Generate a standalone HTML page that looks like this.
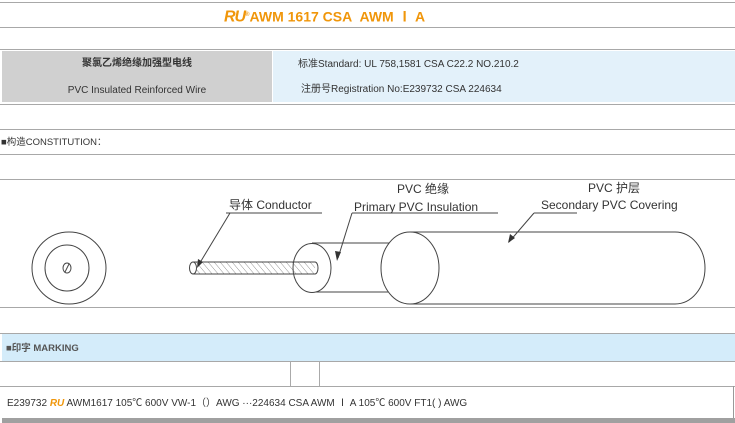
<!DOCTYPE html>
<html><head><meta charset="utf-8"><style>
body{margin:0;width:735px;height:423px;position:relative;background:#fff;font-family:"Liberation Sans","Noto Sans CJK SC",sans-serif;overflow:hidden}
.h{position:absolute;left:0;width:735px;height:0;border-top:1.5px solid #a8a8a8}
.t{position:absolute;white-space:nowrap;font-size:10px;color:#333;line-height:12px}
</style></head><body>
<div class="h" style="top:2px"></div>
<div class="h" style="top:27px"></div>
<div class="t" style="left:224px;top:7px;font-size:14px;font-weight:bold;color:#f0960a;line-height:16px"><span style="font-style:italic;letter-spacing:-1px;font-size:16px;font-weight:900">RU</span><sup style="font-size:6px">®</sup>AWM 1617 CSA&nbsp; AWM Ⅰ A</div>
<div class="h" style="top:49px"></div>
<div style="position:absolute;left:2px;top:51px;width:270px;height:51px;background:#d0d0d0"></div>
<div style="position:absolute;left:273px;top:51px;width:462px;height:51px;background:#e3f1fa"></div>
<div class="t" style="left:2px;width:270px;text-align:center;top:58px;font-weight:bold">聚氯乙烯绝缘加强型电线</div>
<div class="t" style="left:2px;width:270px;text-align:center;top:85px">PVC Insulated Reinforced Wire</div>
<div class="t" style="left:298px;top:59px">标准Standard: UL 758,1581 CSA C22.2 NO.210.2</div>
<div class="t" style="left:301px;top:84px">注册号Registration No:E239732 CSA 224634</div>
<div class="h" style="top:104px"></div>
<div class="h" style="top:129px"></div>
<div class="t" style="left:1px;top:137px;font-size:9.5px">■构造CONSTITUTION：</div>
<div class="h" style="top:154px"></div>
<div class="h" style="top:179px"></div>
<div class="h" style="top:307px"></div>
<svg style="position:absolute;left:0;top:0" width="735" height="423">
<defs><pattern id="hp" width="6" height="12" patternUnits="userSpaceOnUse" patternTransform="skewX(40)"><line x1="0" y1="0" x2="0" y2="12" stroke="#555" stroke-width="0.8"/></pattern></defs>
<g fill="none" stroke="#444" stroke-width="1">
<ellipse cx="69" cy="268" rx="37" ry="36"/>
<ellipse cx="67" cy="268" rx="22" ry="23"/>
<ellipse cx="67" cy="268" rx="4" ry="5"/>
<line x1="65" y1="272" x2="69" y2="264"/>
<!-- insulation -->
<path d="M312 243 L405 243 A16 25 0 0 1 405 292 L312 292" fill="#fff"/>
<ellipse cx="312" cy="268" rx="19" ry="24.5" fill="#fff"/>
<!-- covering -->
<path d="M410 232 L675 232 A30 36 0 0 1 675 304 L410 304" fill="#fff"/>
<ellipse cx="410" cy="268" rx="29" ry="36" fill="#fff"/>
<!-- conductor -->
<rect x="193" y="262" width="122" height="12" fill="url(#hp)" stroke="none"/>
<line x1="193" y1="262" x2="315" y2="262"/><line x1="193" y1="274" x2="315" y2="274"/>
<ellipse cx="193" cy="268" rx="3.5" ry="6" fill="#fff"/>
<path d="M315 262 A3 6 0 0 1 315 274"/>
<!-- leaders -->
<line x1="226" y1="213" x2="322" y2="213"/>
<line x1="230" y1="213" x2="198" y2="266"/>
<line x1="352" y1="213" x2="498" y2="213"/>
<line x1="352" y1="213" x2="338" y2="258"/>
<line x1="534" y1="213" x2="577" y2="213"/>
<line x1="534" y1="213" x2="509" y2="242"/>
</g>
<g fill="#333">
<polygon points="197,268 198,259 203,262"/>
<polygon points="337,261 335,251 341,252"/>
<polygon points="508,243 510,234 515,238"/>
</g>
</svg>
<div class="t" style="left:229px;top:198px;font-size:12px;line-height:14px">导体 Conductor</div>
<div class="t" style="left:397px;top:182px;font-size:12px;line-height:14px">PVC 绝缘</div>
<div class="t" style="left:354px;top:200px;font-size:12px;line-height:14px">Primary PVC Insulation</div>
<div class="t" style="left:588px;top:181px;font-size:12px;line-height:14px">PVC 护层</div>
<div class="t" style="left:541px;top:198px;font-size:12px;line-height:14px">Secondary PVC Covering</div>
<div class="h" style="top:333px"></div>
<div style="position:absolute;left:2px;top:334px;width:733px;height:27px;background:#d4ecfa"></div>
<div class="t" style="left:6px;top:343px;font-size:9.5px;color:#555;font-weight:bold">■印字 MARKING</div>
<div class="h" style="top:361px"></div>
<div style="position:absolute;left:290px;top:361px;width:0;height:25px;border-left:1px solid #aaa"></div>
<div style="position:absolute;left:319px;top:361px;width:0;height:25px;border-left:1px solid #aaa"></div>
<div class="h" style="top:386px"></div>
<div style="position:absolute;left:733px;top:386px;width:0;height:33px;border-left:1px solid #999"></div>
<div class="t" style="left:7px;top:398px;font-size:10px">E239732 <span style="color:#f0960a;font-weight:900;font-style:italic">RU</span> AWM1617 105℃ 600V VW-1（）AWG ···224634 CSA AWM Ⅰ A 105℃ 600V FT1(  ) AWG</div>
<div style="position:absolute;left:2px;top:418px;width:733px;height:5px;background:#a0a0a0"></div>
</body></html>
